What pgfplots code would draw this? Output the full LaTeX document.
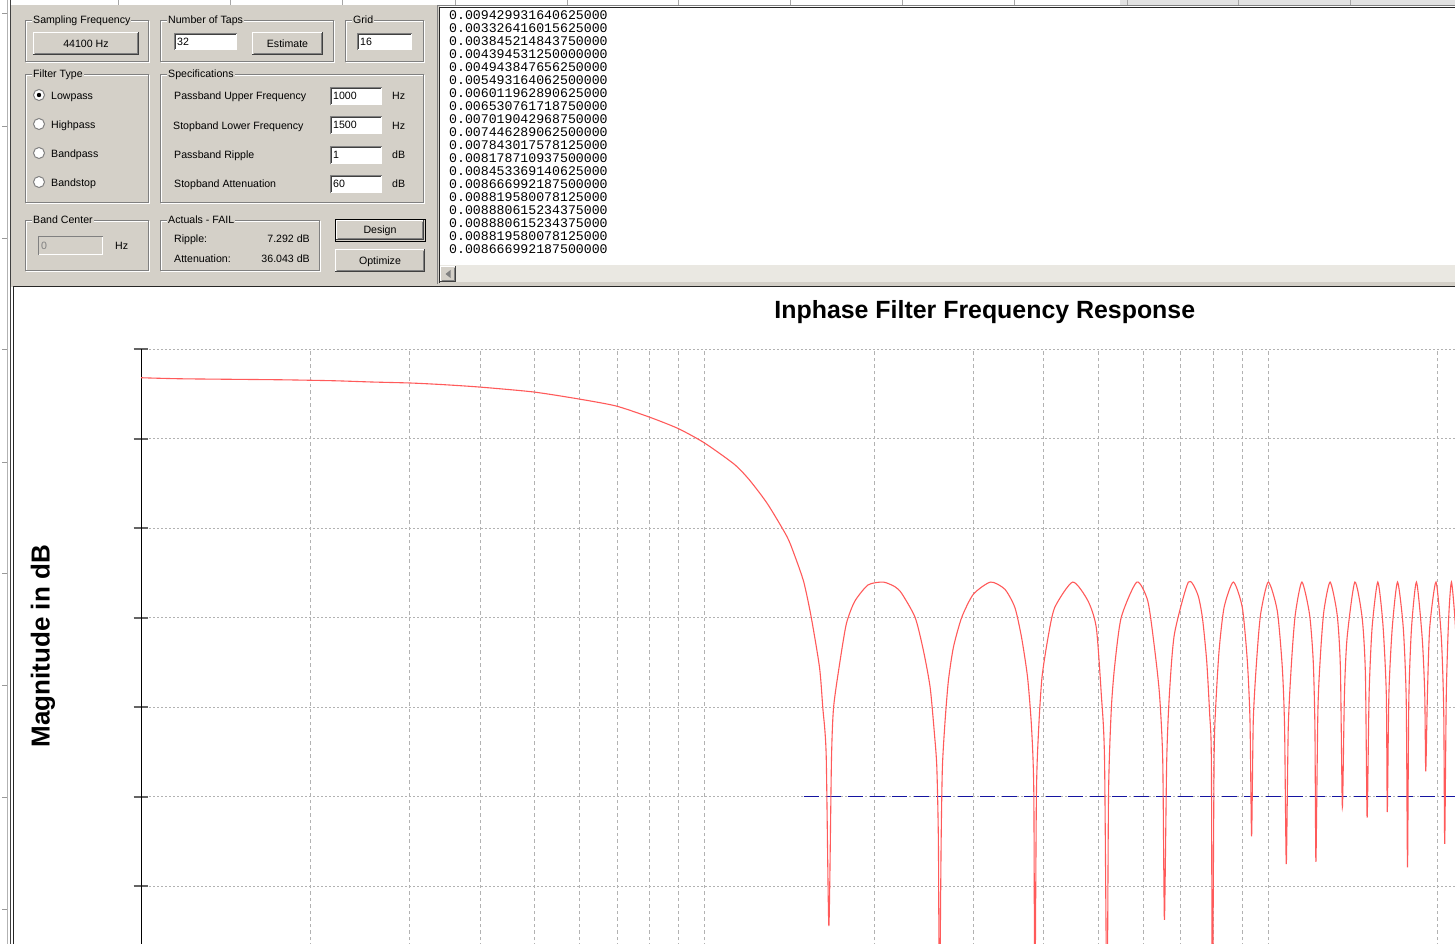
\documentclass[border=0pt]{standalone}
\usepackage{fontspec}
\setmainfont{Liberation Sans}
\setmonofont{Liberation Mono}
\usepackage{pgfplots}
\pgfplotsset{compat=1.18}

\definecolor{panel}{RGB}{212,208,200}
\definecolor{etch}{RGB}{128,128,128}
\definecolor{dkedge}{RGB}{64,64,64}
\definecolor{scrollc}{RGB}{234,232,226}
\definecolor{gridc}{RGB}{178,178,178}
\definecolor{tickc}{RGB}{100,100,100}
\definecolor{curvec}{RGB}{255,90,90}
\definecolor{specc}{RGB}{20,20,160}
\definecolor{topc}{RGB}{226,226,226}

\newcommand{\gui}{\fontsize{10.6}{12}\selectfont}
\newcommand{\listfont}{\fontsize{13.2}{13}\selectfont\ttfamily}

\newcommand{\lbl}[3]{\node[font=\gui, anchor=base west, inner sep=0pt] at (#1,-#2-3.8) {#3};}
\newcommand{\rlbl}[3]{\node[font=\gui, anchor=base east, inner sep=0pt] at (#1,-#2-3.8) {#3};}
\newcommand{\gbox}[5]{%
  \draw[white] (#1+1,-#2-1) rectangle (#3+1,-#4-1);
  \draw[etch] (#1,-#2) rectangle (#3,-#4);
  \node[fill=panel, inner xsep=1pt, inner ysep=1pt, anchor=base west, font=\gui] at (#1+7,-#2-3.8) {#5};
}
\newcommand{\btn}[5]{%
  \fill[panel] (#1,-#2) rectangle (#3,-#4);
  \draw[white] (#1+0.5,-#4) -- (#1+0.5,-#2-0.5) -- (#3,-#2-0.5);
  \draw[dkedge] (#1,-#4+0.5) -- (#3-0.5,-#4+0.5) -- (#3-0.5,-#2);
  \draw[etch] (#1+1.5,-#4+1.5) -- (#3-1.5,-#4+1.5) -- (#3-1.5,-#2-1.5);
  \node[font=\gui, anchor=base, inner sep=0pt] at ({(#1+#3)/2},{-(#2+#4)/2-3.8}) {#5};
}
\newcommand{\field}[5]{%
  \fill[white] (#1,-#2) rectangle (#3,-#4);
  \draw[etch] (#1+0.5,-#4) -- (#1+0.5,-#2-0.5) -- (#3,-#2-0.5);
  \draw[dkedge] (#1+1.5,-#4+1) -- (#1+1.5,-#2-1.5) -- (#3-1,-#2-1.5);
  \node[font=\gui, anchor=base west, inner sep=0pt] at (#1+3,{-(#2+#4)/2-3.8}) {#5};
}
\newcommand{\radio}[2]{%
  \fill[white] (#1,-#2) circle (5.5);
  \draw[etch, line width=1pt] (#1,-#2) circle (5.5);
}

\pgfplotstableread{
f db
100 -13.21
118.7 -13.33
177.7 -13.44
220.7 -13.55
257.6 -13.69
300.8 -13.80
341.4 -13.97
398.6 -14.25
497 -14.80
599 -15.59
697 -16.37
800 -17.63
899 -18.90
1000 -20.50
1128 -22.85
1200 -24.59
1293.5 -27.30
1400 -30.93
1443.6 -32.98
1500 -36.02
1546 -39.90
1600 -45.57
1621.5 -50.06
1644.2 -55.37
1662.4 -74.48
1680 -56.00
1694.6 -50.06
1737.3 -45.15
1785.4 -40.70
1847.7 -38.20
1951.4 -36.36
2075.5 -36.04
2177 -36.56
2238 -37.30
2365 -40.00
2446.5 -43.71
2514.3 -47.80
2558.8 -52.99
2583.9 -56.72
2600.9 -65.25
2611.5 -85.00
2629.7 -65.25
2643.6 -56.72
2672.9 -51.51
2709.2 -47.05
2765.0 -43.34
2860.2 -40.00
3000 -37.40
3219.4 -36.04
3412.7 -36.85
3554.8 -38.88
3653.3 -42.22
3743.8 -46.68
3805.4 -52.26
3841.3 -59.68
3857.0 -85.00
3882.6 -59.68
3919.2 -52.26
3972.3 -46.68
4070.8 -42.22
4183.6 -38.88
4502.3 -36.04
4792.5 -38.15
4957.4 -41.12
5059.5 -48.54
5128.0 -55.97
5178.5 -85.00
5212.4 -59.68
5270.0 -50.40
5341.7 -45.56
5489.2 -40.00
5850.1 -36.04
6118.6 -38.15
6288.1 -43.34
6417.8 -48.54
6504.7 -55.97
6549.8 -73.79
6611.6 -55.97
6684.8 -48.54
6822.4 -41.85
7223.3 -36.04
7502.5 -37.40
7649.1 -40.00
7784.3 -44.83
7880.2 -50.77
7935.0 -55.97
7967.4 -85.00
8022.9 -55.97
8075.4 -50.02
8188.2 -43.71
8356.9 -38.88
8679.2 -36.04
9003.7 -38.88
9189.2 -44.83
9290.9 -51.51
9351.7 -64.44
9416.7 -51.51
9545.6 -44.83
9702.6 -39.63
10012 -36.04
10386 -39.26
10601 -45.56
10701 -52.26
10776 -67.55
10864 -52.26
11013 -44.83
11181 -39.63
11486 -36.04
11849 -39.63
12029 -44.83
12113 -52.26
12163 -67.30
12262 -50.40
12393 -44.09
12566 -39.26
12889 -36.04
13262 -39.63
13442 -45.56
13552 -61.17
13667 -48.54
13818 -42.22
14259 -36.04
14691 -40.00
14890 -46.31
14994 -62.36
15117 -48.54
15303 -41.12
15663 -36.04
15993 -40.74
16217 -48.54
16283 -61.73
16390 -48.54
16618 -41.12
16979 -36.04
17379 -41.12
17593 -49.28
17686 -67.92
17780 -49.28
17978 -41.12
18348 -36.04
18776 -42.22
18977 -48.54
19054 -57.19
19187 -48.54
19368 -41.12
19870 -36.04
20304 -42.22
20504 -50.40
20588 -65.28
20722 -48.54
20926 -40.00
21163 -36.04
21485 -40.50
21705 -47.00
21840 -60.00
22050 -45.00
}\resptable

\pgfplotstableread{
f db
1500 -60
22050 -60
}\spectable

\begin{document}
\begin{tikzpicture}[x=1pt,y=1pt]
\useasboundingbox (0pt,0pt) rectangle (1455pt,-944pt);
\clip (0pt,0pt) rectangle (1455pt,-944pt);
% background strips
\fill[white] (0,0) rectangle (1455,-944);
\fill[topc] (1120,0) rectangle (1455,-6);
\foreach \sx in {118,230,342,455,567,678,790,902,1014,1127,1238,1350}
  \draw[gray!70] (\sx,0) -- (\sx,-6);
\foreach \ty in {13,126,238,349,462,573,685,797,909}
  \draw[gray!80] (2,-\ty) -- (7,-\ty);
\draw[gray!60] (7.5,0) -- (7.5,-944);
\draw[dkedge] (10.5,0) -- (10.5,-944);
% control panel
\fill[panel] (11,-5) rectangle (440,-287);
\fill[panel] (440,-282) rectangle (1455,-287);
% chart area
\fill[white] (13,-287) rectangle (1455,-944);
\draw[black!85, line width=1pt] (13.5,-944) -- (13.5,-286.5) -- (1455,-286.5);

\begin{axis}[
  at={(141pt,-349pt)}, anchor=north west,
  scale only axis, width=1320.5pt, height=805.5pt,
  xmode=log, xmin=100, xmax=22050,
  ymin=-100, ymax=-10,
  axis y line=left, axis x line=bottom,
  axis line style={-, black, line width=1pt},
  xtick=\empty,
  extra x ticks={200,300,400,500,600,700,800,900,1000,2000,3000,4000,5000,6000,7000,8000,9000,10000,20000},
  extra x tick labels={},
  extra x tick style={grid=major, major grid style={gridc, dash pattern=on 3.5pt off 3pt, line width=0.9pt}, major tick length=0pt},
  ytick={-90,-80,-70,-60,-50,-40,-30,-20,-10},
  yticklabels={},
  ymajorgrids=true,
  major grid style={gridc, dash pattern=on 2pt off 2pt, line width=0.9pt},
  tick align=center,
  major tick length=15pt,
  ytick style={line width=2pt, color=tickc},
  title={Inphase Filter Frequency Response},
  title style={font=\fontsize{24.9}{28}\selectfont\bfseries, at={(0.639,1)}, anchor=base, yshift=24.5pt},
  ylabel={Magnitude in dB},
  ylabel style={font=\fontsize{26}{30}\selectfont\bfseries, at={(axis description cs:-0.0742,0.631)}, anchor=center},
]
\addplot[specc, line width=1pt, dash pattern=on 15pt off 7pt] table[x=f,y=db] {\spectable};
\addplot[curvec, line width=1.1pt, smooth, tension=0.4] table[x=f,y=db] {\resptable};
\end{axis}

% group boxes
\gbox{25}{20}{148}{61}{Sampling Frequency}
\gbox{160}{20}{333}{61}{Number of Taps}
\gbox{345}{20}{423}{61}{Grid}
\gbox{25}{74}{148}{202}{Filter Type}
\gbox{160}{74}{423}{202}{Specifications}
\gbox{25}{220}{148}{270}{Band Center}
\gbox{160}{220}{319}{270}{Actuals - FAIL}
% buttons
\btn{33}{32}{139}{55}{44100 Hz}
\btn{252}{32}{323}{55}{Estimate}
\draw[black, line width=1pt] (335,-219) rectangle (425,-241);
\btn{336}{220}{424}{240}{Design}
\btn{335}{249}{425}{272}{Optimize}
% fields
\field{174}{33}{237}{50}{32}
\field{357}{33}{412}{50}{16}
\field{330}{87}{382}{105}{1000}
\field{330}{116}{382}{134}{1500}
\field{330}{146}{382}{164}{1}
\field{330}{175}{382}{193}{60}
% disabled band-center field
\fill[panel] (38,-236) rectangle (103,-255);
\draw[etch] (38.5,-255) -- (38.5,-236.5) -- (103,-236.5);
\draw[white] (38.5,-254.5) -- (102.5,-254.5) -- (102.5,-236.5);
\node[font=\gui, anchor=base west, inner sep=0pt, text=etch] at (41,-249.8) {0};
\lbl{115}{246}{Hz}
% radio buttons
\radio{39}{95}
\radio{39}{124}
\radio{39}{153}
\radio{39}{182}
\fill[black] (39,-95) circle (2.2);
\lbl{51}{96}{Lowpass}
\lbl{51}{125}{Highpass}
\lbl{51}{154}{Bandpass}
\lbl{51}{183}{Bandstop}
% specification labels
\lbl{174}{96}{Passband Upper Frequency}
\lbl{173}{126}{Stopband Lower Frequency}
\lbl{174}{155}{Passband Ripple}
\lbl{174}{184}{Stopband Attenuation}
\lbl{392}{96}{Hz}
\lbl{392}{126}{Hz}
\lbl{392}{155}{dB}
\lbl{392}{184}{dB}
% actuals
\lbl{174}{239}{Ripple:}
\rlbl{310}{239}{7.292 dB}
\lbl{174}{259}{Attenuation:}
\rlbl{310}{259}{36.043 dB}

% coefficient list box
\fill[white] (440,-7) rectangle (1455,-265);
\draw[etch] (437.5,-284) -- (437.5,-5.5) -- (1455,-5.5);
\draw[black!85] (439.5,-283) -- (439.5,-7.5) -- (1455,-7.5);
\fill[scrollc] (440,-265) rectangle (1455,-282);
\btn{440}{266}{456}{282}{}
\fill[etch] (445.5,-274) -- (450.5,-270) -- (450.5,-278) -- cycle;
\foreach \v [count=\i] in {0.009429931640625000,0.003326416015625000,0.003845214843750000,0.004394531250000000,0.004943847656250000,0.005493164062500000,0.006011962890625000,0.006530761718750000,0.007019042968750000,0.007446289062500000,0.007843017578125000,0.008178710937500000,0.008453369140625000,0.008666992187500000,0.008819580078125000,0.008880615234375000,0.008880615234375000,0.008819580078125000,0.008666992187500000}
  \node[font=\listfont, anchor=west, inner sep=0pt] at (449,{-15-13*(\i-1)}) {\v};
\end{tikzpicture}
\end{document}
